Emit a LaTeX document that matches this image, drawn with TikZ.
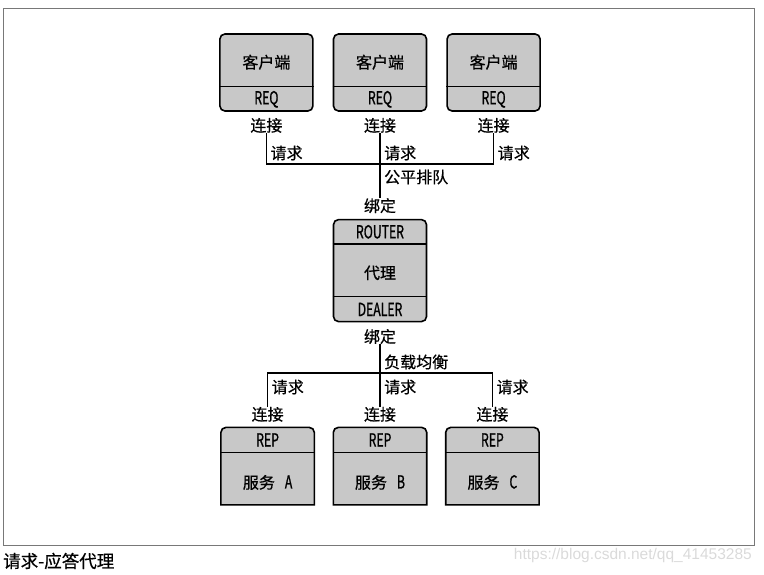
\documentclass[tikz,border=0pt]{standalone}
\usepackage{fontspec}
\setmainfont{Noto Sans CJK SC}[FakeBold=0.7]
\newfontfamily\condfont[FakeStretch=0.68, FakeBold=0.9]{Noto Sans CJK SC}
\newfontfamily\urlfont{Liberation Sans}
\usetikzlibrary{positioning}
\definecolor{boxgray}{RGB}{200, 200, 200}
\definecolor{framegray}{RGB}{120, 120, 120}
\definecolor{markgray}{RGB}{218, 218, 218}

\begin{document}
\begin{tikzpicture}[x=1bp, y=-1bp,
    box/.style={
      rectangle, rounded corners=5bp, draw=black, line width=1.6bp, fill=boxgray,
      minimum width=93bp, minimum height=77bp, inner sep=0pt
    },
    hub/.style={box, minimum height=102bp},
    srv/.style={rectangle, minimum width=93bp, minimum height=77bp, inner sep=0pt},
    cn/.style={font=\fontsize{16bp}{18bp}\selectfont, inner sep=0pt},
    tag/.style={font=\condfont\fontsize{18bp}{20bp}\selectfont, inner sep=0pt},
    side/.style={cn, anchor=west, xshift=4bp},
    sep/.style={line width=1.4bp},
    wire/.style={line width=1.4bp}
]
  \useasboundingbox (0,0) rectangle (764,575);
  \draw[framegray, line width=1bp] (3,9) rectangle (754,545);

  % Clients
  \node[box]                    (cli2) at (380,72.5) {};
  \node[box, left=19bp of cli2]  (cli1) {};
  \node[box, right=19bp of cli2] (cli3) {};
  \foreach \n in {1,2,3} {
    \draw[sep] ([yshift=25bp]cli\n.south west) -- ([yshift=25bp]cli\n.south east);
    \node[cn]  (cliname\n) at ([yshift=-29bp]cli\n.north) {客户端};
    \node[tag] (clireq\n)  at ([yshift=12.5bp]cli\n.south) {REQ};
    \node[cn, below=6bp of cli\n] (clicon\n) {连接};
  }

  % Broker
  \node[hub, below=107bp of cli2] (proxy) {};
  \draw[sep] ([yshift=-25bp]proxy.north west) -- ([yshift=-25bp]proxy.north east);
  \draw[sep] ([yshift=26bp]proxy.south west) -- ([yshift=26bp]proxy.south east);
  \node[tag] (router) at ([yshift=-13bp]proxy.north) {ROUTER};
  \node[cn]  (broker) at ([yshift=-54bp]proxy.north) {代理};
  \node[tag] (dealer) at ([yshift=13bp]proxy.south)  {DEALER};
  \node[cn, above=5.5bp of proxy] (bindup)   {绑定};
  \node[cn, below=6.5bp of proxy] (binddown) {绑定};

  % Services
  \node[srv, below=105bp of proxy] (svc2) {};
  \node[srv, left=19bp of svc2]    (svc1) {};
  \node[srv, right=19bp of svc2]   (svc3) {};
  \foreach \n/\s in {1/A,2/B,3/C} {
    \draw[line width=1.6bp, fill=boxgray] (svc\n.south west)
      [rounded corners=5bp] -- (svc\n.north west) -- (svc\n.north east)
      [sharp corners] -- (svc\n.south east) -- cycle;
    \draw[sep] ([yshift=-25bp]svc\n.north west) -- ([yshift=-25bp]svc\n.north east);
    \node[tag] (svcrep\n)  at ([yshift=-12.5bp]svc\n.north) {REP};
    \node[cn]  (svcname\n) at ([yshift=-55bp]svc\n.north)
      {服务\hspace{10bp}{\condfont\fontsize{18bp}{20bp}\selectfont \s}};
    \node[cn, above=5.5bp of svc\n] (svccon\n) {连接};
  }

  % Upper wires
  \coordinate (fairq) at (cli2.center |- 0,164);
  \draw[wire] (clicon1.south) |- (fairq) -| (clicon3.south);
  \draw[wire] (clicon2.south) -- (bindup.north);
  \foreach \n in {1,2,3}
    \node[side] (clireqlbl\n) at (clicon\n.south |- 0,153) {请求};
  \node[side] (fair) at (fairq |- 0,177) {公平排队};

  % Lower wires
  \coordinate (loadj) at (proxy.center |- 0,373);
  \draw[wire] (binddown.south) -- (svccon2.north);
  \draw[wire] (svccon1.north) |- (loadj) -| (svccon3.north);
  \foreach \n in {1,2,3}
    \node[side] (svcreqlbl\n) at (svccon\n.north |- 0,387) {请求};
  \node[side] (load) at (loadj |- 0,362) {负载均衡};

  % Caption
  \node[anchor=west, inner sep=0pt, font=\fontsize{17.5bp}{20bp}\selectfont]
    (caption) at (3,561) {请求-应答代理};
  \node[anchor=east, inner sep=0pt, text=markgray, font=\urlfont\fontsize{15.5bp}{18bp}\selectfont]
    (mark) at (752,555) {https://blog.csdn.net/qq\_41453285};
\end{tikzpicture}
\end{document}
